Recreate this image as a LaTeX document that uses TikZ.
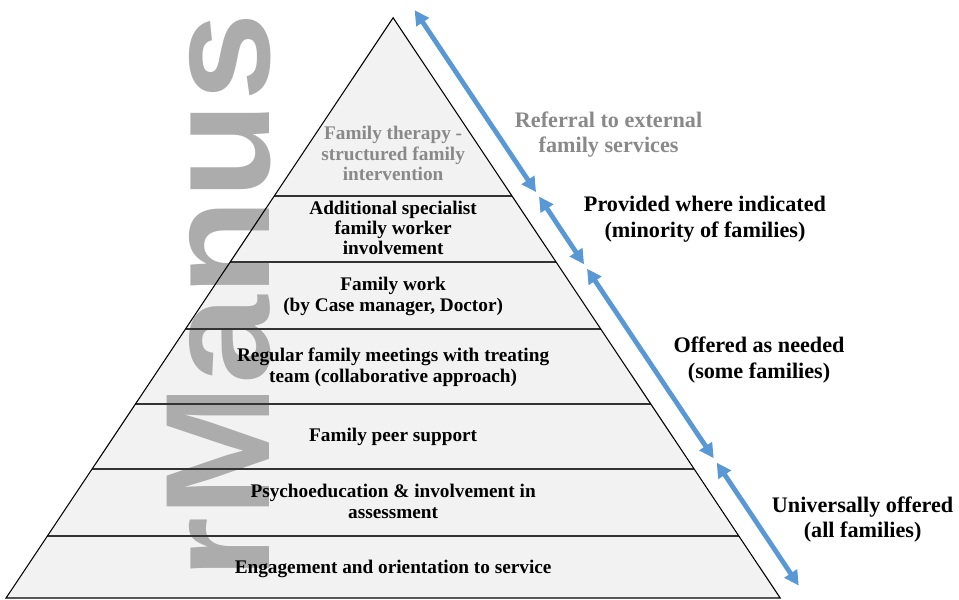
\documentclass[tikz,border=0pt]{standalone}
\usepackage{fontspec}
\setmainfont{Liberation Serif}
\setsansfont{Liberation Sans}
\definecolor{tierfill}{RGB}{242, 242, 242}
\definecolor{arrowblue}{RGB}{88, 152, 212}
\definecolor{mutedgray}{RGB}{137, 137, 137}
\definecolor{markgray}{RGB}{172, 172, 172}
\usetikzlibrary{arrows.meta, positioning, calc}

\begin{document}
\begin{tikzpicture}[
  tierlabel/.style={font=\fontsize{14.5}{15.4}\selectfont\bfseries, align=center, inner sep=0pt},
  reachlabel/.style={font=\fontsize{16.7}{19.2}\selectfont\bfseries, align=center, inner sep=0pt},
  divider/.style={draw=black!80, line width=1.1pt},
  levelarrow/.style={arrowblue, line width=3.6pt,
                     {Triangle[length=11pt,width=11pt]}-{Triangle[length=11pt,width=11pt]},
                     shorten <=2pt, shorten >=2pt},
]
\useasboundingbox (0,0) rectangle (25.37,15.87);

% Pyramid body
\coordinate (apex) at (10.40, 15.40);
\coordinate (bl) at (0.16, 0.05);
\coordinate (br) at (20.64, 0.05);
\fill[tierfill] (apex) -- (bl) -- (br) -- cycle;

% Watermark letters behind the tiers
\node[markgray, font=\sffamily\bfseries\fontsize{112}{112}\selectfont, rotate=90, xscale=1.07,
      anchor=base, inner sep=0pt] (mark) at (7.14, 8.03) {rManus};

% Tier dividers and outline
\foreach \f in {0.307, 0.421, 0.536, 0.666, 0.778, 0.893}
  \draw[divider] ($(apex)!\f!(bl)$) -- ($(apex)!\f!(br)$);
\draw[black, line width=0.8pt] (apex) -- (bl) -- (br) -- cycle;

% Tier labels, top to bottom
\node[tierlabel, mutedgray] (therapy) at (10.40, 11.81) {Family therapy -\\structured family\\intervention};
\node[tierlabel] (specialist) at (10.40, 9.84) {Additional specialist\\family worker\\involvement};
\node[tierlabel] (work) at (10.40, 8.03) {Family work\\(by Case manager, Doctor)};
\node[tierlabel] (meetings) at (10.40, 6.16) {Regular family meetings with treating\\team (collaborative approach)};
\node[tierlabel] (peer) at (10.40, 4.31) {Family peer support};
\node[tierlabel] (psycho) at (10.40, 2.61) {Psychoeducation \& involvement in\\assessment};
\node[tierlabel] (engage) at (10.40, 0.83) {Engagement and orientation to service};

% Reach arrows along the right side
\coordinate (r0) at (10.93, 15.66);
\coordinate (r1) at (14.22, 10.73);
\coordinate (r2) at (15.49, 8.82);
\coordinate (r3) at (18.92, 3.69);
\coordinate (r4) at (21.17, 0.32);
\foreach \a/\b in {r0/r1, r1/r2, r2/r3, r3/r4}
  \draw[levelarrow] (\a) -- (\b);

% Reach labels
\node[reachlabel, mutedgray] (referral) at (16.10, 12.31) {Referral to external\\family services};
\node[reachlabel] (indicated) at (18.65, 10.07) {Provided where indicated\\(minority of families)};
\node[reachlabel] (needed) at (20.08, 6.35) {Offered as needed\\(some families)};
\node[reachlabel] (universal) at (22.82, 2.12) {Universally offered\\(all families)};
\end{tikzpicture}
\end{document}
